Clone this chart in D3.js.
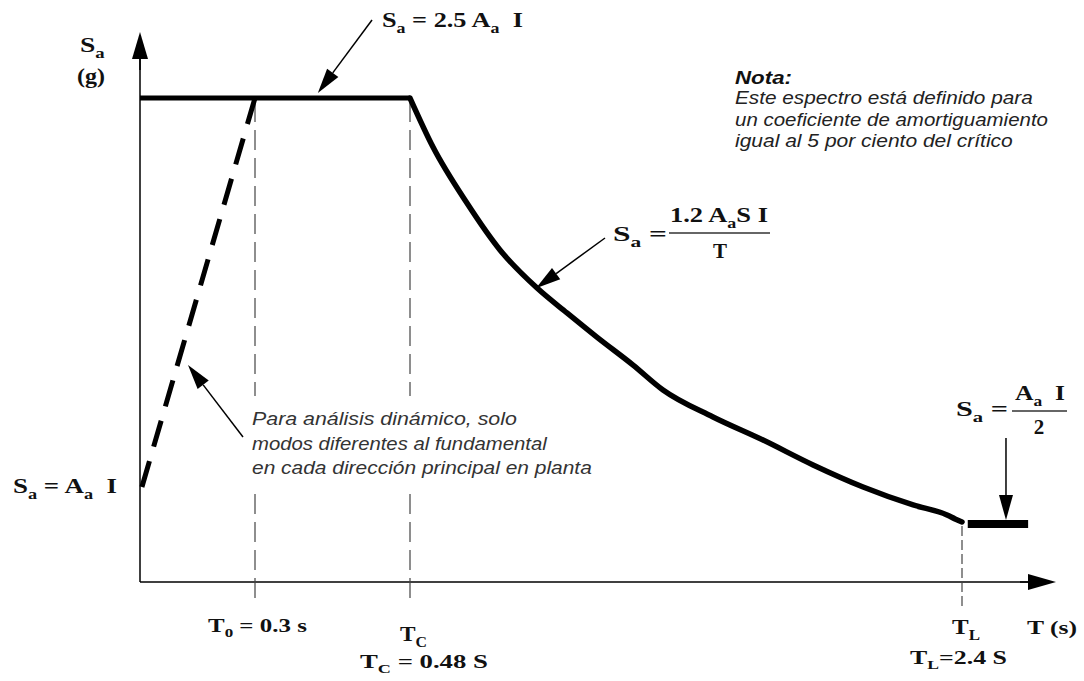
<!DOCTYPE html>
<html>
<head>
<meta charset="utf-8">
<script src="https://cdn.jsdelivr.net/npm/d3@7"></script>
<style>
  body { margin: 0; background: #fff; }
  svg { display: block; }
  text { white-space: pre; }
</style>
</head>
<body>
<svg id="chart"></svg>
<script>
// period marks on the T axis (s)
let markT = [0.3, 0.48, 2.4]
// flat top Sa = 2.5 Aa I (Sa in units of Aa I)
let plateau = [[0, 2.5], [0.48, 2.5]]
// dashed ramp from Sa = Aa I to the plateau
let ramp = [[0.005, 1.0], [0.3, 2.5]]
// descending branch Sa = 1.2 Aa S I / T
let decayT = [0.48, 0.56, 0.678, 0.793, 0.922, 1.026, 1.13, 1.256, 1.36, 1.534, 1.708, 1.882, 2.056, 2.23, 2.348, 2.376, 2.4]
let decaySa = [2.5, 2.311, 2.095, 1.914, 1.767, 1.671, 1.578, 1.47, 1.374, 1.27, 1.181, 1.085, 1.0, 0.757, 0.622, 0.568, 0.527]
// flat piece after TL, Sa = Aa I / 2
let tail = [[2.42, 0.5], [2.63, 0.5]]

// note texts
let notaLines = ['Este espectro está definido para', 'un coeficiente de amortiguamiento', 'igual al 5 por ciento del crítico']
let notaWidths = [298, 313, 278]
let rampLines = ['Para análisis dinámico, solo', 'modos diferentes al fundamental', 'en cada dirección principal en planta']
let rampWidths = [265, 296, 340]

let width = 1084
let height = 681

let svg = d3.select('#chart').attr('width', width).attr('height', height)

// the drawing is schematic, so both scales are piecewise
let xScale = d3.scaleLinear()
    .domain([0, 0.3, 0.48, 2.4])
    .range([140, 255, 410, 962])
let yScale = d3.scaleLinear()
    .domain([0, 0.5, 1, 2.5])
    .range([582, 524, 487, 98])

let x0 = xScale(0), y0 = yScale(0)

// arrow helper: line from tail to tip with a filled head
let arrow = (x1, y1, x2, y2, len, hw, sw) => {
    let a = Math.atan2(y2 - y1, x2 - x1)
    let bx = x2 - len * Math.cos(a), by = y2 - len * Math.sin(a)
    svg.append('line')
        .attr('x1', x1).attr('y1', y1).attr('x2', bx).attr('y2', by)
        .attr('stroke', '#000').attr('stroke-width', sw)
    let px = -Math.sin(a) * hw, py = Math.cos(a) * hw
    svg.append('polygon')
        .attr('points', [[x2, y2], [bx + px, by + py], [bx - px, by - py]].map(p => p.join(',')).join(' '))
        .attr('fill', '#000')
}

// stretch a text element horizontally so it spans w pixels
let fit = (t, x, y, w) => {
    let natural = t.node().getBBox().width
    let sx = w ? w / natural : 1
    t.attr('transform', 'translate(' + x + ',' + y + ') scale(' + sx + ',1)')
    return t
}

// equation helper: segments [text, isSubscript]
let eq = (x, y, segs, size, w, anchor) => {
    let t = svg.append('text').attr('x', 0).attr('y', 0)
        .attr('text-anchor', anchor || 'start')
        .style('font-family', '"Liberation Serif", "DejaVu Serif", serif')
        .style('font-weight', 'bold')
        .style('font-size', size + 'px')
        .attr('fill', '#111')
    let sub = false
    segs.forEach(([s, isSub]) => {
        let ts = t.append('tspan').text(s)
        if (isSub) ts.style('font-size', (size * 0.68) + 'px')
        if (isSub && !sub) ts.attr('dy', size * 0.28)
        if (!isSub && sub) ts.attr('dy', -size * 0.28)
        sub = isSub
    })
    return fit(t, x, y, w)
}

// axes
svg.append('line')
    .attr('x1', x0).attr('y1', y0).attr('x2', x0).attr('y2', 55)
    .attr('stroke', '#000').attr('stroke-width', 1.5)
arrow(x0, 70, x0, 32, 27, 8, 1.5)
svg.append('line')
    .attr('x1', x0).attr('y1', y0).attr('x2', 1035).attr('y2', y0)
    .attr('stroke', '#000').attr('stroke-width', 1.5)
arrow(1020, y0, 1056, y0, 28, 8, 1.5)

// dashed guides at T0, TC, TL
svg.selectAll('line.guide')
    .data(markT)
    .enter()
    .append('line')
    .attr('class', 'guide')
    .attr('x1', d => xScale(d))
    .attr('x2', d => xScale(d))
    .attr('y1', (d, i) => i < 2 ? yScale(2.5) + 4 : yScale(0.5) + 2)
    .attr('y2', 606)
    .attr('stroke', '#444')
    .attr('stroke-width', 1.2)
    .attr('stroke-dasharray', (d, i) => i < 2 ? '20,8' : '10,4')

let line = d3.line().x(d => xScale(d[0])).y(d => yScale(d[1]))

// plateau
svg.append('path')
    .attr('d', line(plateau))
    .attr('fill', 'none').attr('stroke', '#000').attr('stroke-width', 5)

// descending branch
let decay = decayT.map((t, i) => [t, decaySa[i]])
svg.append('path')
    .attr('d', line.curve(d3.curveMonotoneX)(decay))
    .attr('fill', 'none').attr('stroke', '#000').attr('stroke-width', 5.5)
    .attr('stroke-linejoin', 'round').attr('stroke-linecap', 'round')
line.curve(d3.curveLinear)

// tail after TL
svg.append('path')
    .attr('d', line(tail))
    .attr('fill', 'none').attr('stroke', '#000').attr('stroke-width', 8)

// dashed ramp
svg.append('path')
    .attr('d', line(ramp))
    .attr('fill', 'none').attr('stroke', '#000').attr('stroke-width', 5)
    .attr('stroke-dasharray', '27,15')

// annotation arrows
arrow(372, 20, xScale(0.373), yScale(2.5) - 5, 25, 7, 1.5)
arrow(605, 238, xScale(0.918), yScale(1.77) + 1, 25, 7, 1.5)
arrow(xScale(2.553), 438, xScale(2.553), yScale(0.5) - 4, 25, 7, 1.5)
arrow(243, 437, 188, 365, 25, 7, 1.5)

// y axis title
eq(80, 52, [['S', false], ['a', true]], 20, 25)
eq(77, 83, [['(g)', false]], 20, 28)

// equations
eq(382, 27, [['S', false], ['a', true], [' = 2.5 A', false], ['a', true], ['  I', false]], 22, 141)
eq(13, 493, [['S', false], ['a', true], [' = A', false], ['a', true], ['  I', false]], 22, 104)

eq(613, 241, [['S', false], ['a', true], [' =', false]], 21, 54)
eq(670, 222, [['1.2 A', false], ['a', true], ['S I', false]], 21, 98)
svg.append('line').attr('x1', 669).attr('x2', 770).attr('y1', 233).attr('y2', 233)
    .attr('stroke', '#333').attr('stroke-width', 1.3)
eq(720, 258, [['T', false]], 21, null, 'middle')

eq(956, 416, [['S', false], ['a', true], [' =', false]], 21, 52)
eq(1015, 400, [['A', false], ['a', true], ['  I', false]], 21, 50)
svg.append('line').attr('x1', 1012).attr('x2', 1067).attr('y1', 411).attr('y2', 411)
    .attr('stroke', '#333').attr('stroke-width', 1.3)
eq(1039, 434, [['2', false]], 21, null, 'middle')

// axis labels
eq(208, 632, [['T', false], ['0', true], [' = 0.3 s', false]], 19, 99)
eq(400, 641, [['T', false], ['C', true]], 20, 27)
eq(360, 668, [['T', false], ['C', true], [' = 0.48 S', false]], 19, 128)
eq(952, 634, [['T', false], ['L', true]], 20, 28)
eq(1027, 634, [['T (s)', false]], 19, 50)
eq(910, 664, [['T', false], ['L', true], ['=2.4 S', false]], 19, 97)

// note block
let sans = '"Liberation Sans", Arial, sans-serif'
fit(svg.append('text')
    .style('font-family', sans).style('font-size', '19px')
    .style('font-style', 'italic').style('font-weight', 'bold')
    .attr('fill', '#111').text('Nota:'), 735, 84, 57)

svg.selectAll('text.nota')
    .data(notaLines)
    .enter()
    .append('text')
    .attr('class', 'nota')
    .style('font-family', sans).style('font-size', '19px').style('font-style', 'italic')
    .attr('fill', '#222')
    .text(d => d)
    .each(function (d, i) { fit(d3.select(this), 735, 104 + i * 21.5, notaWidths[i]) })

// the ramp note sits in an opaque box that hides the guides behind it
svg.append('rect')
    .attr('x', 248).attr('y', 396).attr('width', 350).attr('height', 92)
    .attr('fill', '#fff')

svg.selectAll('text.ramp')
    .data(rampLines)
    .enter()
    .append('text')
    .attr('class', 'ramp')
    .style('font-family', sans).style('font-size', '18px').style('font-style', 'italic')
    .attr('fill', '#333')
    .text(d => d)
    .each(function (d, i) { fit(d3.select(this), 252, 425 + i * 24.5, rampWidths[i]) })
</script>
</body>
</html>
